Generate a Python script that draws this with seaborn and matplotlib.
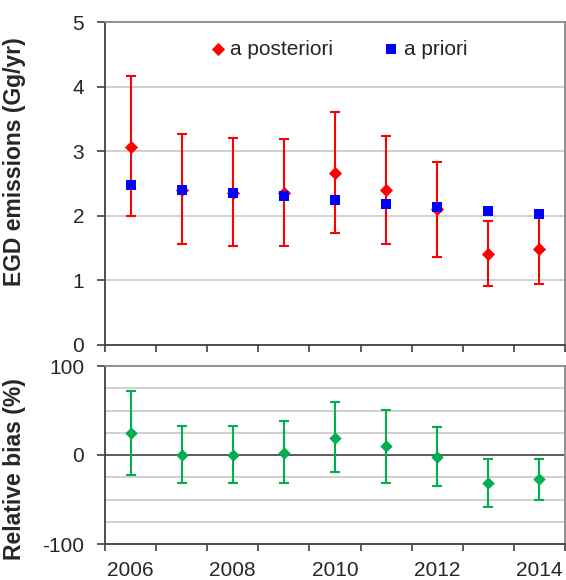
import numpy as np
import pandas as pd
import matplotlib
matplotlib.use("Agg")
import matplotlib.pyplot as plt
import seaborn as sns

years = [2006, 2007, 2008, 2009, 2010, 2011, 2012, 2013, 2014]
posterior = [3.07, 2.40, 2.36, 2.36, 2.67, 2.40, 2.11, 1.41, 1.48]
posterior_hi = [4.17, 3.27, 3.21, 3.19, 3.60, 3.24, 2.83, 1.92, 2.00]
posterior_lo = [2.00, 1.56, 1.54, 1.53, 1.74, 1.56, 1.36, 0.92, 0.95]
prior = [2.47, 2.40, 2.35, 2.30, 2.24, 2.19, 2.13, 2.08, 2.03]

bias = [25, 0, 0, 2, 19, 10, -2, -32, -27]
bias_hi = [72, 33, 33, 38, 59, 51, 32, -5, -4]
bias_lo = [-22, -32, -31, -31, -19, -32, -35, -58, -50]

xtick_labels = ["2006", "2008", "2010", "2012", "2014"]

sns.set_theme(style="white")
plt.rcParams["font.family"] = ["Liberation Sans", "DejaVu Sans"]
plt.rcParams["axes.unicode_minus"] = False

RED = "#FF0000"
BLUE = "#0000FF"
GREEN = "#00B050"
DARK = "#404040"
LIGHT = "#888888"
GRID = "#D0D0D0"

df = pd.DataFrame({"year": years, "post": posterior, "hi": posterior_hi,
                   "lo": posterior_lo, "prior": prior,
                   "bias": bias, "bhi": bias_hi, "blo": bias_lo})

W, H = 566, 580
fig = plt.figure(figsize=(W / 100, H / 100), dpi=100)
ax1 = fig.add_axes([105 / W, 1 - 345 / H, (565 - 105) / W, (345 - 22) / H])
ax2 = fig.add_axes([105 / W, 1 - 544 / H, (565 - 105) / W, (544 - 366) / H])

bounds = np.arange(2005.5, 2015.0, 1.0)

def style_axes(ax):
    ax.set_xlim(2005.5, 2014.5)
    for s in ["left", "bottom"]:
        ax.spines[s].set_color(DARK)
        ax.spines[s].set_linewidth(1.3)
    for s in ["top", "right"]:
        ax.spines[s].set_color(LIGHT)
        ax.spines[s].set_linewidth(1.3)
    ax.set_xticks(bounds)
    ax.tick_params(axis="x", which="major", direction="out", length=5,
                   width=1.2, color=DARK, labelbottom=False, bottom=True)
    ax.tick_params(axis="y", which="major", direction="out", length=6,
                   width=1.2, color=DARK, labelsize=15, pad=9, left=True)
    ax.set_xlabel("")

# ---- top panel ----
for g in [1, 2, 3, 4]:
    ax1.axhline(g, color=GRID, lw=1.4, zorder=0)
ax1.errorbar(df["year"], df["post"],
             yerr=[df["post"] - df["lo"], df["hi"] - df["post"]],
             fmt="none", ecolor=RED, elinewidth=1.5, capsize=3.6,
             capthick=1.5, zorder=2)
sns.scatterplot(data=df, x="year", y="post", marker="D", color=RED, s=45,
                linewidth=0, label="a posteriori", ax=ax1, zorder=3)
sns.scatterplot(data=df, x="year", y="prior", marker="s", color=BLUE, s=48,
                linewidth=0, label="a priori", ax=ax1, zorder=4)
ax1.set_ylim(0, 5)
ax1.set_yticks([0, 1, 2, 3, 4, 5])
style_axes(ax1)
ax1.set_ylabel("EGD emissions (Gg/yr)", fontsize=16.5, fontweight="bold")
ax1.yaxis.set_label_coords(-0.172, 0.567)
leg = ax1.legend(loc="center", bbox_to_anchor=(0.505, 0.916), ncol=2,
                 frameon=False, fontsize=15, handletextpad=0.1,
                 columnspacing=2.3, markerscale=1.0, handlelength=1.0)

# ---- bottom panel ----
for g in [-75, -50, -25, 25, 50, 75]:
    ax2.axhline(g, color=GRID, lw=1.4, zorder=0)
ax2.axhline(0, color=DARK, lw=1.2, zorder=1)
ax2.errorbar(df["year"], df["bias"],
             yerr=[df["bias"] - df["blo"], df["bhi"] - df["bias"]],
             fmt="none", ecolor=GREEN, elinewidth=1.5, capsize=3.6,
             capthick=1.5, zorder=2)
sns.scatterplot(data=df, x="year", y="bias", marker="D", color=GREEN, s=40,
                linewidth=0, ax=ax2, zorder=3, legend=False)
ax2.set_ylim(-100, 100)
ax2.set_yticks([-100, 0, 100])
style_axes(ax2)
ax2.set_xticks([2006, 2008, 2010, 2012, 2014], minor=True)
ax2.set_xticklabels(xtick_labels, minor=True)
ax2.tick_params(axis="x", which="minor", length=0, labelsize=15, pad=12,
                labelbottom=True)
ax2.set_ylabel("Relative bias (%)", fontsize=16.5, fontweight="bold")
ax2.yaxis.set_label_coords(-0.172, 0.42)

fig.savefig("out.png", dpi=100)
